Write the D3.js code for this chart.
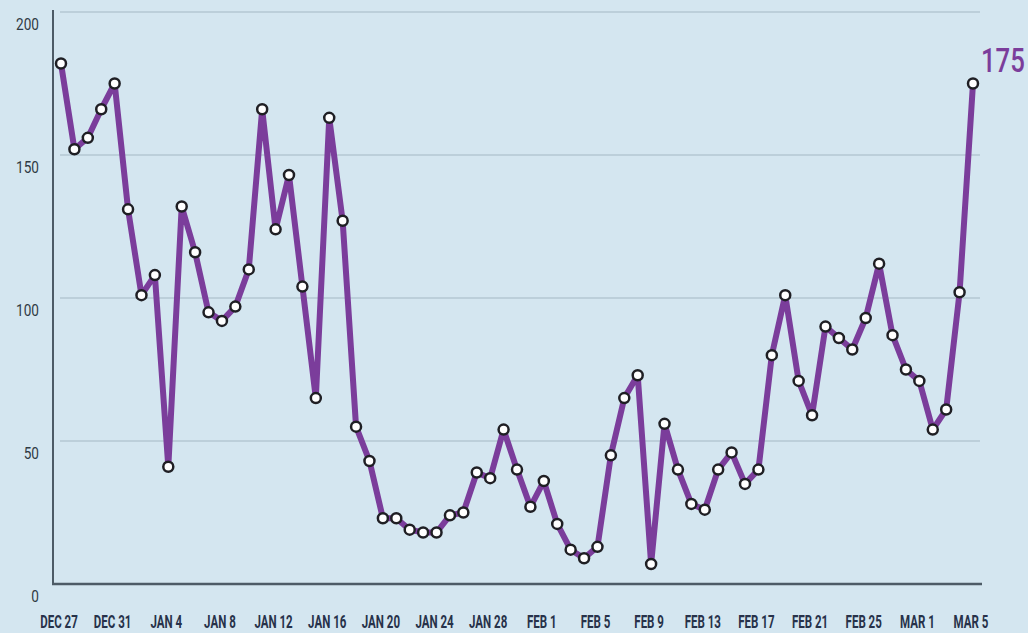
<!DOCTYPE html>
<html>
<head>
<meta charset="utf-8">
<script src="https://cdn.jsdelivr.net/npm/d3@7"></script>
<style>
  body { margin: 0; background: #d4e6f0; }
  svg { display: block; }
  .ytick { font-family: Roboto, "Liberation Sans", sans-serif; font-size: 17px; fill: #2f3a44; }
  .xtick { font-family: Roboto, "Liberation Sans", sans-serif; font-size: 18px; font-weight: bold; fill: #27324a; }
  .last { font-family: Roboto, "Liberation Sans", sans-serif; font-size: 33px; font-weight: 500; fill: #7b3d9b; }
</style>
</head>
<body>
<div id="chart"></div>
<script>
// daily counts, Dec 27 -> Mar 5 (one value per day)
var dayLabels = ["DEC 27", "DEC 31", "JAN 4", "JAN 8", "JAN 12", "JAN 16", "JAN 20", "JAN 24",
    "JAN 28", "FEB 1", "FEB 5", "FEB 9", "FEB 13", "FEB 17", "FEB 21", "FEB 25", "MAR 1", "MAR 5"];

var values = [182, 152, 156, 166, 175, 131, 101, 108, 41, 132,
    116, 95, 92, 97, 110, 166, 124, 143, 104, 65,
    163, 127, 55, 43, 23, 23, 19, 18, 18, 24,
    25, 39, 37, 54, 40, 27, 36, 21, 12, 9,
    13, 45, 65, 73, 7, 56, 40, 28, 26, 40,
    46, 35, 40, 80, 101, 71, 59, 90, 86, 82,
    93, 112, 87, 75, 71, 54, 61, 102, 175];

var yTicks = [0, 50, 100, 150, 200];

var svgWidth = 1028;
var svgHeight = 633;

var svg = d3.select("#chart")
    .append("svg")
    .attr("width", svgWidth)
    .attr("height", svgHeight);

svg.append("rect")
    .attr("width", svgWidth)
    .attr("height", svgHeight)
    .attr("fill", "#d4e6f0");

// x is day index, labels every 4th day
var x = d3.scaleLinear()
    .domain([0, values.length - 1])
    .range([61, 973]);

var y = d3.scaleLinear()
    .domain([0, 200])
    .range([584, 12]);

// gridlines
svg.selectAll(".grid")
    .data(yTicks.filter(d => d > 0))
    .enter()
    .append("line")
    .attr("x1", 60)
    .attr("x2", 980)
    .attr("y1", d => y(d))
    .attr("y2", d => y(d))
    .attr("stroke", "#bccfda")
    .attr("stroke-width", 2);

// axes lines
svg.append("line")
    .attr("x1", 53).attr("x2", 53)
    .attr("y1", 10).attr("y2", y(0))
    .attr("stroke", "#4d5b66")
    .attr("stroke-width", 2);

svg.append("line")
    .attr("x1", 52).attr("x2", 982)
    .attr("y1", y(0)).attr("y2", y(0))
    .attr("stroke", "#4d5b66")
    .attr("stroke-width", 2.5);

// condensed look: squeeze text horizontally
svg.selectAll(".ytick")
    .data(yTicks)
    .enter()
    .append("text")
    .attr("class", "ytick")
    .attr("transform", d => `translate(39, ${y(d) + 12}) scale(0.8, 1)`)
    .attr("dy", "0.35em")
    .attr("text-anchor", "end")
    .text(d => d);

svg.selectAll(".xtick")
    .data(dayLabels)
    .enter()
    .append("text")
    .attr("class", "xtick")
    .attr("transform", (d, i) => `translate(${x(i * 4) - 2}, 622) scale(0.64, 1)`)
    .attr("dy", "0.35em")
    .attr("text-anchor", "middle")
    .text(d => d);

var line = d3.line()
    .x((d, i) => x(i))
    .y(d => y(d));

svg.append("path")
    .datum(values)
    .attr("d", line)
    .attr("fill", "none")
    .attr("stroke", "#7b3d9b")
    .attr("stroke-width", 6)
    .attr("stroke-linejoin", "round");

svg.selectAll(".dot")
    .data(values)
    .enter()
    .append("circle")
    .attr("cx", (d, i) => x(i))
    .attr("cy", d => y(d))
    .attr("r", 5)
    .attr("fill", "#ffffff")
    .attr("stroke", "#1f1f24")
    .attr("stroke-width", 2.5);

// label for latest value
svg.append("text")
    .attr("class", "last")
    .attr("transform", `translate(${x(values.length - 1) + 8}, ${y(values[values.length - 1]) - 12}) scale(0.78, 1)`)
    .text(values[values.length - 1]);
</script>
</body>
</html>
